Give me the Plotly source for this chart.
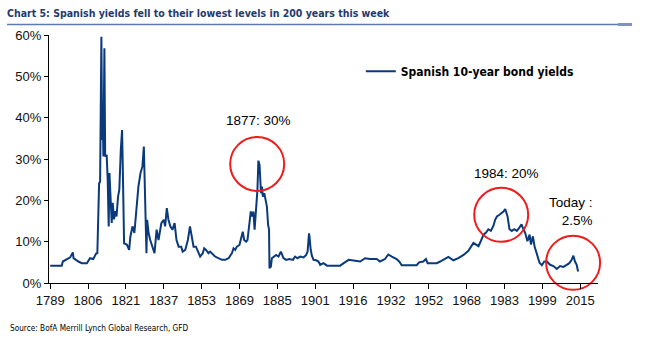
import numpy as np
import plotly.graph_objects as go

# ---- data ----
tick_years = [1789, 1806, 1821, 1837, 1853, 1869, 1885, 1901, 1916, 1932, 1952, 1968, 1983, 1999, 2015]
y_ticks = [0, 10, 20, 30, 40, 50, 60]
y_tick_labels = ["0%", "10%", "20%", "30%", "40%", "50%", "60%"]

years = [
    1789.0, 1794.2, 1794.7, 1796.5, 1798.0, 1799.2, 1799.5, 1801.7, 1803.2, 1805.5,
    1806.8, 1808.1, 1809.2, 1809.7, 1809.9, 1810.3, 1810.4, 1810.8, 1810.9, 1811.0,
    1811.3, 1811.6, 1811.9, 1812.1, 1812.5, 1812.8, 1813.4, 1813.8, 1814.2, 1814.5,
    1815.0, 1815.4, 1815.8, 1816.3, 1816.8, 1817.3, 1817.9, 1818.4, 1819.0, 1819.5,
    1819.8, 1820.1, 1820.3, 1821.4, 1822.4, 1822.9, 1823.8, 1824.6, 1825.5, 1826.3,
    1827.2, 1828.0, 1828.6, 1828.9, 1829.2, 1829.7, 1830.0, 1830.6, 1831.3, 1832.3,
    1833.1, 1834.0, 1834.8, 1836.0, 1837.0, 1837.6, 1838.3, 1839.0, 1839.8, 1840.7,
    1841.6, 1842.4, 1843.3, 1844.4, 1845.0, 1846.1, 1847.2, 1848.1, 1848.6, 1849.6,
    1850.6, 1851.5, 1852.4, 1853.5, 1854.1, 1854.9, 1855.9, 1856.6, 1857.8, 1858.7,
    1860.1, 1861.6, 1863.0, 1864.4, 1865.8, 1866.5, 1867.2, 1867.9, 1869.0, 1869.6,
    1870.4, 1871.0, 1871.8, 1872.4, 1873.2, 1873.8, 1874.4, 1874.9, 1875.4, 1875.8,
    1876.4, 1876.6, 1877.0, 1877.5, 1877.8, 1878.1, 1878.5, 1878.9, 1879.5, 1880.0,
    1880.6, 1881.1, 1881.5, 1881.7, 1882.3, 1882.7, 1883.4, 1884.5, 1885.5, 1886.5,
    1887.6, 1888.7, 1890.1, 1891.6, 1892.5, 1893.5, 1894.7, 1896.1, 1897.2, 1897.8,
    1898.4, 1898.6, 1899.1, 1899.6, 1900.3, 1901.4, 1902.3, 1903.0, 1904.3, 1905.7,
    1908.3, 1910.9, 1912.3, 1914.3, 1916.9, 1919.0, 1921.1, 1923.2, 1926.0, 1927.4,
    1929.5, 1930.9, 1932.5, 1935.0, 1936.4, 1937.7, 1942.1, 1945.6, 1946.9, 1949.1,
    1950.5, 1951.4, 1953.3, 1955.4, 1956.8, 1958.2, 1960.3, 1962.4, 1964.5, 1966.7,
    1968.7, 1970.7, 1971.8, 1972.7, 1973.6, 1974.7, 1975.7, 1976.6, 1977.6, 1978.6,
    1979.3, 1980.0, 1981.0, 1982.0, 1982.6, 1983.3, 1983.7, 1984.3, 1985.1, 1986.1,
    1987.1, 1988.2, 1989.3, 1990.2, 1991.0, 1991.7, 1992.7, 1993.6, 1994.2, 1995.0,
    1995.7, 1996.7, 1997.8, 1998.8, 1999.8, 2000.9, 2002.3, 2003.7, 2005.1, 2006.5,
    2007.9, 2009.3, 2010.4, 2011.4, 2012.1, 2012.8, 2013.5, 2014.1,
]

yields = [
    4.2, 4.2, 5.2, 5.8, 6.2, 7.4, 6.0, 5.2, 4.8, 4.8,
    6.0, 5.8, 7.1, 7.2, 12.0, 14.5, 24.1, 24.5, 37.0, 39.6,
    59.6, 34.6, 39.4, 30.6, 56.8, 30.6, 31.0, 25.0, 13.7, 26.6,
    19.4, 14.5, 19.4, 15.4, 17.4, 16.1, 20.9, 22.5, 32.2, 37.0,
    27.4, 15.3, 9.6, 9.3, 8.0, 11.2, 13.7, 12.1, 19.3, 23.3,
    26.6, 28.2, 33.0, 25.0, 16.1, 7.2, 15.3, 12.1, 10.4, 8.8,
    7.2, 12.9, 10.4, 14.5, 15.3, 13.7, 18.1, 15.3, 13.7, 12.9,
    14.5, 10.4, 8.8, 8.8, 7.6, 8.0, 10.4, 13.7, 11.7, 8.8,
    8.8, 7.6, 6.4, 7.2, 8.4, 8.0, 7.2, 7.6, 6.8, 6.4,
    6.0, 5.6, 5.6, 6.0, 7.2, 8.4, 8.0, 8.8, 9.2, 10.8,
    12.4, 10.4, 10.0, 10.4, 15.3, 17.3, 16.1, 17.3, 12.9, 17.3,
    20.9, 22.5, 29.6, 28.6, 24.1, 21.7, 23.3, 20.9, 21.7, 20.1,
    18.5, 14.1, 12.9, 3.6, 4.0, 6.0, 6.4, 6.8, 6.4, 7.6,
    6.0, 5.6, 5.8, 5.6, 6.4, 6.0, 6.4, 6.2, 6.8, 7.6,
    12.0, 11.3, 8.1, 6.6, 5.6, 5.5, 5.2, 4.4, 4.8, 4.2,
    4.2, 4.2, 4.8, 5.6, 5.4, 5.2, 6.0, 5.8, 5.8, 5.2,
    5.8, 6.9, 6.4, 5.8, 5.2, 4.3, 4.3, 4.3, 5.0, 5.2,
    5.8, 4.8, 4.8, 4.8, 5.2, 5.6, 6.3, 5.5, 6.0, 6.8,
    7.8, 9.7, 9.3, 8.9, 10.1, 11.7, 12.2, 13.0, 12.6, 13.8,
    15.3, 16.1, 16.5, 17.0, 17.3, 17.9, 17.0, 16.1, 13.0, 12.6,
    13.0, 12.6, 13.4, 14.2, 13.0, 12.2, 10.1, 11.7, 9.3, 11.3,
    8.9, 6.9, 4.9, 4.3, 5.2, 5.2, 4.4, 4.1, 3.4, 4.1,
    3.9, 4.4, 4.8, 5.6, 6.6, 5.2, 4.4, 2.8,
]

# highlighted episodes (year, yield)
highlight_years = [1876.5, 1981.7, 2012.0]
highlight_yields = [28.8, 16.5, 4.9]

series_name = "Spanish 10-year bond yields"
title_text = "Chart 5: Spanish yields fell to their lowest levels in 200 years this week"
source_text = "Source: BofA Merrill Lynch Global Research, GFD"

# ---- category-like axis: labelled years are evenly spaced ----
tick_pos = np.arange(len(tick_years))
def to_pos(y):
    return np.interp(y, tick_years, tick_pos)

LINE = "#0b3a7c"
NARROW = "Liberation Sans Narrow, Arial Narrow, DejaVu Sans Condensed, sans-serif"
REG = "Liberation Sans, Arial, sans-serif"

fig = go.Figure()
fig.add_trace(go.Scatter(
    x=to_pos(years), y=yields, mode="lines", name=series_name,
    line=dict(color=LINE, width=2),
))
fig.add_trace(go.Scatter(
    x=to_pos(highlight_years), y=highlight_yields, mode="markers",
    marker=dict(symbol="circle-open", size=54, color="#ee1c1c", line=dict(width=2, color="#ee1c1c")),
    cliponaxis=False, showlegend=False, hoverinfo="skip",
))

fig.update_layout(
    width=661, height=350,
    margin=dict(l=49, r=63, t=35, b=67),
    paper_bgcolor="white", plot_bgcolor="white",
    title=dict(text="<b>" + title_text + "</b>", x=7/661, xref="container", xanchor="left",
               y=1-13/350, yref="container", yanchor="middle",
               font=dict(family=NARROW, size=10.5, color="#1f3a6e")),
    showlegend=True,
    legend=dict(x=0.568, y=0.912, xanchor="left", yanchor="top", bgcolor="rgba(0,0,0,0)",
                font=dict(family=NARROW, size=12, color="black", weight="bold"), itemwidth=30),
    xaxis=dict(range=[-0.03, 14.47], tickvals=list(tick_pos), ticktext=[str(t) for t in tick_years],
               showline=True, linecolor="black", linewidth=1, ticks="outside", ticklen=5,
               tickcolor="black", showgrid=False, zeroline=False,
               tickfont=dict(family=REG, size=13, color="#111")),
    yaxis=dict(range=[0, 60], tickvals=y_ticks, ticktext=y_tick_labels,
               showline=True, linecolor="black", linewidth=1, ticks="outside", ticklen=4,
               tickcolor="black", showgrid=False, zeroline=False,
               tickfont=dict(family=REG, size=13, color="#111")),
    font=dict(family=REG),
)

# title underline
fig.add_shape(type="line", xref="paper", yref="paper", x0=(7-49)/549, x1=(632-49)/549,
              y0=(283.3-24.5)/248.3, y1=(283.3-24.5)/248.3, line=dict(color="#5b7bb0", width=1.5))
fig.add_shape(type="line", xref="paper", yref="paper", x0=(618-49)/549, x1=(632-49)/549,
              y0=(283.3-24.5)/248.3, y1=(283.3-24.5)/248.3, line=dict(color="#7f93b8", width=3))

# text annotations
fig.add_annotation(x=to_pos(1877), y=39.2, xref="x", yref="y", text="1877: 30%", showarrow=False,
                   font=dict(family=REG, size=13.5, color="black"))
fig.add_annotation(x=to_pos(1984), y=26.4, xref="x", yref="y", text="1984: 20%", showarrow=False,
                   font=dict(family=REG, size=13.5, color="black"))
fig.add_annotation(x=14.4, y=17.3, xref="x", yref="y", text="Today :<br>2.5%", showarrow=False,
                   xanchor="right", align="right",
                   font=dict(family=REG, size=13.5, color="black"))
fig.add_annotation(x=(8-49)/549, y=(283.3-328)/248.3, xref="paper", yref="paper", text=source_text,
                   showarrow=False, xanchor="left", yanchor="middle",
                   font=dict(family=NARROW, size=8.2, color="black"))

fig.write_html("out.html")
